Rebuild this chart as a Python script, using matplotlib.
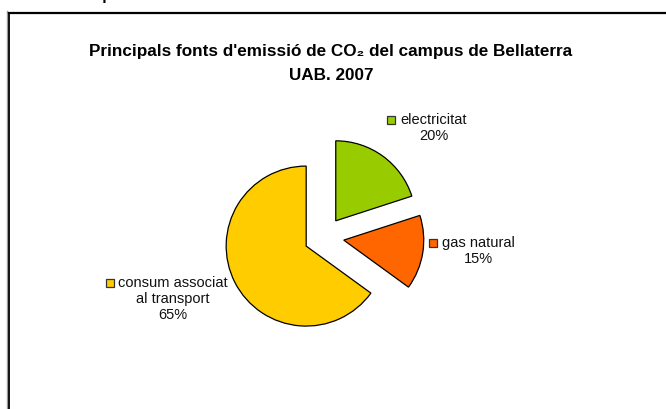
import matplotlib
matplotlib.use("Agg")
import matplotlib.pyplot as plt
from matplotlib.patches import Rectangle
from matplotlib.lines import Line2D

plt.rcParams["font.family"] = ["Liberation Sans", "DejaVu Sans"]

# data
categories = ["electricitat", "gas natural", "consum associat\nal transport"]
shares = [20, 15, 65]
colors = ["#99CC00", "#FF6600", "#FFCC00"]

title = "Principals fonts d'emissió de CO₂ del campus de Bellaterra\nUAB. 2007"
top_text = "ció de CO₂ al campus de Bellaterra de la UAB. Emissions 2007 - 2008"

W, H = 666, 410


def py(y):
    # pixel row (from top) -> axes y
    return H - y


fig = plt.figure(figsize=(W / 100, H / 100), dpi=100)
ax = fig.add_axes([0, 0, 1, 1])

# chart frame (cut by the image edge on right and bottom)
ax.add_line(Line2D([7, 7], [py(12), py(420)], color="#9a9a9a", lw=1.0, clip_on=False))
ax.add_line(Line2D([8.5, 8.5], [py(13.5), py(420)], color="black", lw=1.3, clip_on=False))
ax.add_line(Line2D([8.5, 680], [py(13.5), py(13.5)], color="black", lw=1.6, clip_on=False))

# clipped title of the slide above the chart
ax.text(-28, py(-0.3), top_text, fontsize=11, fontweight="bold", ha="left",
        va="baseline")

ax.text(331, py(44), title, fontsize=12.3, fontweight="bold", ha="center",
        va="top", multialignment="center", linespacing=1.72)

wedges, _ = ax.pie(shares, colors=colors, startangle=90, counterclock=False,
                   center=(324, py(238)), radius=80, explode=[20] * 3,
                   wedgeprops=dict(edgecolor="black", linewidth=0.9),
                   frame=True)
ax.set_xlim(0, W)
ax.set_ylim(0, H)
ax.axis("off")

# data labels: (text centre x, top y, key square x, key square y)
label_pos = [(434, 113, 387, 117), (478, 236, 429, 240), (173, 276, 106, 280)]
for cat, val, col, (tx, ty, kx, ky) in zip(categories, shares, colors, label_pos):
    ax.text(tx, py(ty), f"{cat}\n{val}%", fontsize=10.5, ha="center", va="top",
            multialignment="center", linespacing=1.2, color="#111111")
    ax.add_patch(Rectangle((kx, py(ky + 8)), 8, 8, facecolor=col,
                           edgecolor="#333333", lw=0.9))

fig.savefig("out.png", dpi=100)
